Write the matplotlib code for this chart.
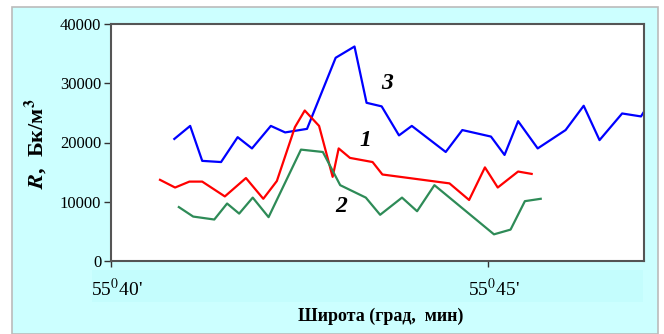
import matplotlib.pyplot as plt
from matplotlib.patches import Rectangle
import matplotlib.transforms as mtransforms

plt.rcParams['font.family'] = ['Liberation Serif', 'DejaVu Serif']
plt.rcParams['mathtext.fontset'] = 'stix'

# latitude, minutes past 55 deg 40'
blue_x = [0.84, 1.05, 1.21, 1.46, 1.68, 1.87, 2.12, 2.31, 2.60, 2.98, 3.23, 3.39,
          3.59, 3.82, 3.99, 4.44, 4.66, 5.04, 5.22, 5.40, 5.66, 6.03, 6.27, 6.48,
          6.78, 7.03, 7.07]
blue_y = [20600, 22800, 16900, 16700, 20900, 19000, 22800, 21700, 22300, 34300,
          36200, 26700, 26100, 21200, 22800, 18400, 22100, 21000, 17900, 23600,
          19000, 22100, 26200, 20400, 24900, 24400, 25200]

red_x = [0.65, 0.85, 1.04, 1.21, 1.51, 1.79, 2.02, 2.20, 2.44, 2.57, 2.76, 2.94,
         3.02, 3.17, 3.47, 3.60, 4.49, 4.75, 4.96, 5.13, 5.40, 5.58]
red_y = [13700, 12400, 13400, 13400, 10900, 14000, 10500, 13500, 22600, 25400,
         22800, 14200, 19000, 17400, 16700, 14600, 13100, 10300, 15800, 12400,
         15100, 14700]

green_x = [0.90, 1.09, 1.37, 1.54, 1.70, 1.88, 2.09, 2.52, 2.81, 3.04, 3.38, 3.57,
           3.86, 4.06, 4.29, 5.08, 5.30, 5.49, 5.70]
green_y = [9100, 7500, 7000, 9700, 8000, 10700, 7400, 18800, 18400, 12800, 10700,
           7800, 10700, 8400, 12800, 4500, 5300, 10100, 10500]

xtick_pos = [0, 5]
xtick_labels = [r"55$^{0}$40'", r"55$^{0}$45'"]
ytick_pos = [0, 10000, 20000, 30000, 40000]

W, H = 664, 334
fig = plt.figure(figsize=(W / 100, H / 100), dpi=100)
fig.patch.set_facecolor('white')

# cyan panel with grey frame
fig.patches.append(Rectangle((12 / W, 0), (658 - 12) / W, (H - 7) / H,
                             transform=fig.transFigure, facecolor='#ccffff',
                             edgecolor='#bbbbbb', linewidth=1.2, zorder=-10))
# band behind x tick labels
fig.patches.append(Rectangle((92 / W, (H - 302) / H), (643 - 92) / W, 32 / H,
                             transform=fig.transFigure, facecolor='#c4fdfd',
                             edgecolor='none', zorder=-9))

ax = fig.add_axes([111 / W, (H - 261) / H, (644 - 111) / W, (261 - 24) / H])
ax.set_facecolor('white')

ax.plot(blue_x, blue_y, color='#0000ff', lw=1.6)
ax.plot(red_x, red_y, color='#ff0000', lw=1.6)
ax.plot(green_x, green_y, color='#2e8b57', lw=1.6)

ax.text(3.66, 29900, '3', fontsize=17, fontweight='bold', style='italic',
        ha='center', va='center')
ax.text(3.37, 20400, '1', fontsize=17, fontweight='bold', style='italic',
        ha='center', va='center')
ax.text(3.05, 9200, '2', fontsize=17, fontweight='bold', style='italic',
        ha='center', va='center')

ax.set_xlim(0, 7.07)
ax.set_ylim(0, 40000)
ax.set_yticks(ytick_pos)
ax.set_yticklabels([str(v) for v in ytick_pos])
ax.set_xticks(xtick_pos)
ax.set_xticklabels(xtick_labels)
ax.tick_params(axis='y', direction='out', length=5, width=1, pad=2,
               labelsize=12, colors='#333333', labelcolor='black')
ax.tick_params(axis='x', direction='out', length=4, width=1, pad=8,
               labelsize=14, colors='#333333', labelcolor='black')
offset = mtransforms.ScaledTranslation(6 / 100, 0, fig.dpi_scale_trans)
for lbl in ax.get_xticklabels():
    lbl.set_transform(lbl.get_transform() + offset)

for sp in ax.spines.values():
    sp.set_color('#555555')
    sp.set_linewidth(1.5)

fig.text(36 / W, 1 - 144 / H, r'$\boldsymbol{R}$,  Бк/м$^\mathbf{3}$',
         rotation=90, fontsize=16, fontweight='bold', ha='center', va='center')
fig.text(381 / W, 1 - 316 / H, 'Широта (град,  мин)', fontsize=13,
         fontweight='bold', ha='center', va='center')

fig.savefig('out.png', dpi=100)
